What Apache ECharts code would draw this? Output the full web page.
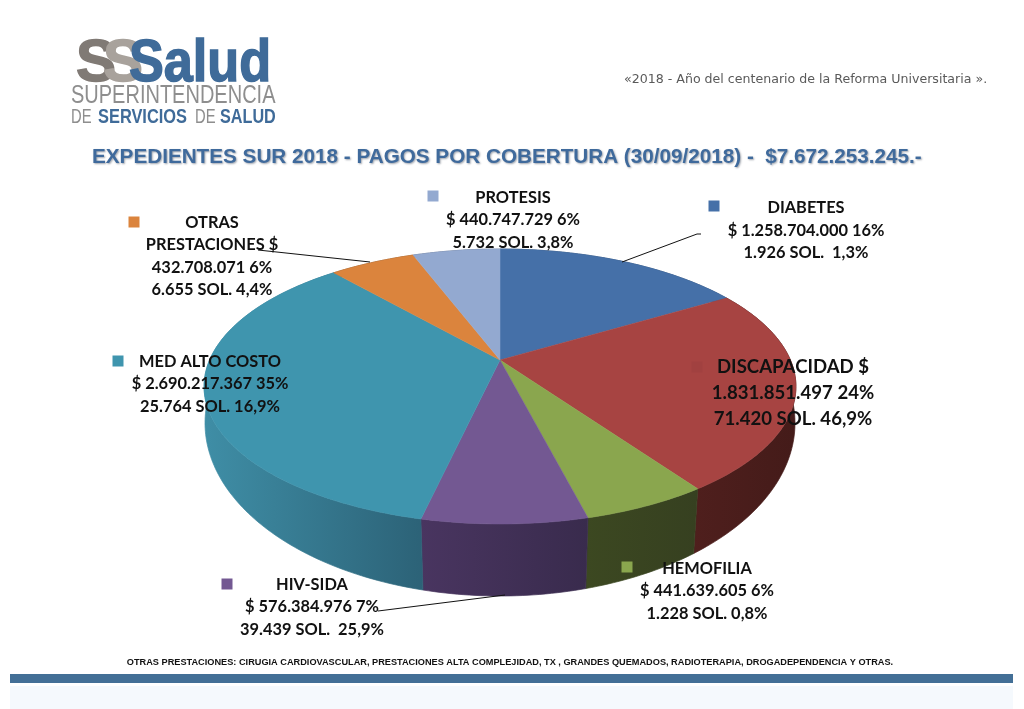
<!DOCTYPE html>
<html>
<head>
<meta charset="utf-8">
<style>html,body{margin:0;padding:0;background:#fff}#c{width:1024px;height:709px}</style>
<script src="https://cdn.jsdelivr.net/npm/echarts@6/dist/echarts.min.js"></script>
</head>
<body>
<div id="c"></div>
<script>
const categories = ['DIABETES','DISCAPACIDAD','HEMOFILIA','HIV-SIDA','MED ALTO COSTO','OTRAS PRESTACIONES','PROTESIS'];
const amounts = [1258704000,1831851497,441639605,576384976,2690217367,432708071,440747729];
const labelTexts = [
  'DIABETES\n$ 1.258.704.000 16%\n1.926 SOL.  1,3%',
  'DISCAPACIDAD $\n1.831.851.497 24%\n71.420 SOL. 46,9%',
  'HEMOFILIA\n$ 441.639.605 6%\n1.228 SOL. 0,8%',
  'HIV-SIDA\n$ 576.384.976 7%\n39.439 SOL.  25,9%',
  'MED ALTO COSTO\n$ 2.690.217.367 35%\n25.764 SOL. 16,9%',
  'OTRAS\nPRESTACIONES $\n432.708.071 6%\n6.655 SOL. 4,4%',
  'PROTESIS\n$ 440.747.729 6%\n5.732 SOL. 3,8%'
];
const titleText = 'EXPEDIENTES SUR 2018 - PAGOS POR COBERTURA (30/09/2018) -  $7.672.253.245.-';
const mottoText = '«2018 - Año del centenario de la Reforma Universitaria ».';
const footText = 'OTRAS PRESTACIONES: CIRUGIA CARDIOVASCULAR, PRESTACIONES ALTA COMPLEJIDAD, TX , GRANDES QUEMADOS, RADIOTERAPIA, DROGADEPENDENCIA Y OTRAS.';

const topColors = ['#4570a8','#a74442','#8aa64e','#735892','#3f95ae','#db843d','#93a9d0'];
const wallColors = [['#2f4d74','#2f4d74'],['#4f1f1d','#441b19'],['#3c4821','#364020'],['#493560','#392b4d'],['#3f8ea6','#2c6277'],['#8a5227','#8a5227'],['#5f6f8a','#5f6f8a']];
const labelLayout = [
  {cx:806,y:196.5,sq:[714,206],size:16.4,lh:22.6},
  {cx:793,y:354,sq:[697,367],size:18.6,lh:26,sqColor:'#a14140'},
  {cx:707,y:557,sq:[627,567],size:16.4,lh:22.6},
  {cx:312,y:573,sq:[227,584],size:16.4,lh:22.6},
  {cx:210,y:350,sq:[118,361],size:16.4,lh:22.6},
  {cx:212,y:211,sq:[134,222],size:16.4,lh:22.6},
  {cx:513,y:186,sq:[433,196],size:16.4,lh:22.6}
];
const leaderLines = [
  [[622,262],[697,234],[701,234]],
  [[370,262],[258,250]],
  [[505,595],[378,611]]
];

// perspective projection of the pie disc
const topRim = {cx:500,cy:360,a:290.4,b:132.4,k:0.1927};
const baseRim = {cx:500,cy:393.6,a:290.7,b:168,k:0.17};
const total = amounts.reduce((s,v)=>s+v,0);
function project(rim,theta){
  const u=Math.sin(theta), v=-Math.cos(theta), w=1-rim.k*v;
  return [rim.cx+rim.a*u/w, rim.cy+rim.b*v/w];
}
function arc(rim,start,end){
  const n=Math.max(2,Math.ceil((end-start)/(Math.PI/180))), pts=[];
  for(let i=0;i<=n;i++) pts.push(project(rim,start+(end-start)*i/n));
  return pts;
}
function sliceStart(i){
  return amounts.slice(0,i).reduce((s,v)=>s+v,0)/total*2*Math.PI;
}
function renderWall(params,api){
  const i=params.dataIndex, s=sliceStart(i), e=s+api.value(0)/total*2*Math.PI;
  const a=arc(topRim,s,e), b=arc(baseRim,s,e).reverse();
  const fill={type:'linear',x:0,y:0,x2:1,y2:0,colorStops:[
    {offset:0,color:wallColors[i][0]},{offset:1,color:wallColors[i][1]}]};
  return {type:'polygon',shape:{points:a.concat(b)},style:{fill,stroke:fill,lineWidth:0.7}};
}
function renderTop(params,api){
  const i=params.dataIndex, s=sliceStart(i), e=s+api.value(0)/total*2*Math.PI;
  const pts=[[topRim.cx,topRim.cy]].concat(arc(topRim,s,e));
  return {type:'polygon',shape:{points:pts},style:{fill:topColors[i],stroke:topColors[i],lineWidth:0.5}};
}

const graphics=[];
// logo
function logoText(t,x,y,size,w,color,sx,bold){
  graphics.push({type:'text',x,y,scaleX:sx||1,silent:true,z:5,style:{text:t,font:w+' '+size+'px "Liberation Sans"',fill:color,stroke:bold?color:null,lineWidth:bold||0,textAlign:'left',textVerticalAlign:'middle'}});
}
logoText('S',76,64,60,'bold','#807a75',1,1.5);
logoText('S',103,64,60,'bold','#a8a29c',1,1.5);
logoText('Salud',129,64,60,'bold','#3f6b99',0.87,1.5);
logoText('SUPERINTENDENCIA',71,96,25,'normal','#8e8e8e',0.8);
logoText('DE',71,117.5,20,'normal','#8e8e8e',0.74);
logoText('SERVICIOS',98,117.5,20,'bold','#3f6b99',0.82);
logoText('DE',195,117.5,20,'normal','#8e8e8e',0.74);
logoText('SALUD',220,117.5,20,'bold','#3f6b99',0.81);
// motto
graphics.push({type:'text',x:624,y:80,silent:true,style:{text:mottoText,font:'12.6px "DejaVu Sans"',fill:'#5a5a5a',textAlign:'left',textVerticalAlign:'middle'}});
// labels
labelTexts.forEach((t,i)=>{
  const L=labelLayout[i];
  graphics.push({type:'rect',z:6,silent:true,shape:{x:L.sq[0]-5.5,y:L.sq[1]-5.5,width:11,height:11},style:{fill:L.sqColor||topColors[i]}});
  graphics.push({type:'text',z:7,silent:true,x:L.cx,y:L.y,style:{text:t,font:'bold '+L.size+'px Lato',lineHeight:L.lh,fill:'#111',textAlign:'center',textVerticalAlign:'top'}});
});
leaderLines.forEach(p=>graphics.push({type:'polyline',z:6,silent:true,shape:{points:p},style:{stroke:'#111',lineWidth:1,fill:null}}));
// footer
graphics.push({type:'text',x:510,y:662,silent:true,style:{text:footText,font:'bold 9.2px "Liberation Sans"',fill:'#111',textAlign:'center',textVerticalAlign:'middle'}});
graphics.push({type:'rect',silent:true,shape:{x:10,y:674,width:1003,height:9},style:{fill:'#436f96'}});
graphics.push({type:'rect',silent:true,shape:{x:10,y:686,width:1003,height:23},style:{fill:'#f5f9fd'}});

const chart=echarts.init(document.getElementById('c'),null,{renderer:'canvas'});
chart.setOption({
  animation:false,
  backgroundColor:'#ffffff',
  title:{text:titleText,left:92,top:147,padding:0,textStyle:{fontFamily:'"Liberation Sans"',fontWeight:'bold',fontSize:20.7,color:'#3f6a9c',textShadowColor:'rgba(40,50,70,0.45)',textShadowBlur:2,textShadowOffsetX:1,textShadowOffsetY:1}},
  graphic:graphics,
  series:[
    {type:'custom',name:'walls',coordinateSystem:'none',silent:true,z:2,renderItem:renderWall,data:amounts.map((v,i)=>({name:categories[i],value:[v]}))},
    {type:'custom',name:'tops',coordinateSystem:'none',silent:true,z:3,renderItem:renderTop,data:amounts.map((v,i)=>({name:categories[i],value:[v]}))}
  ]
});
</script>
</body>
</html>
